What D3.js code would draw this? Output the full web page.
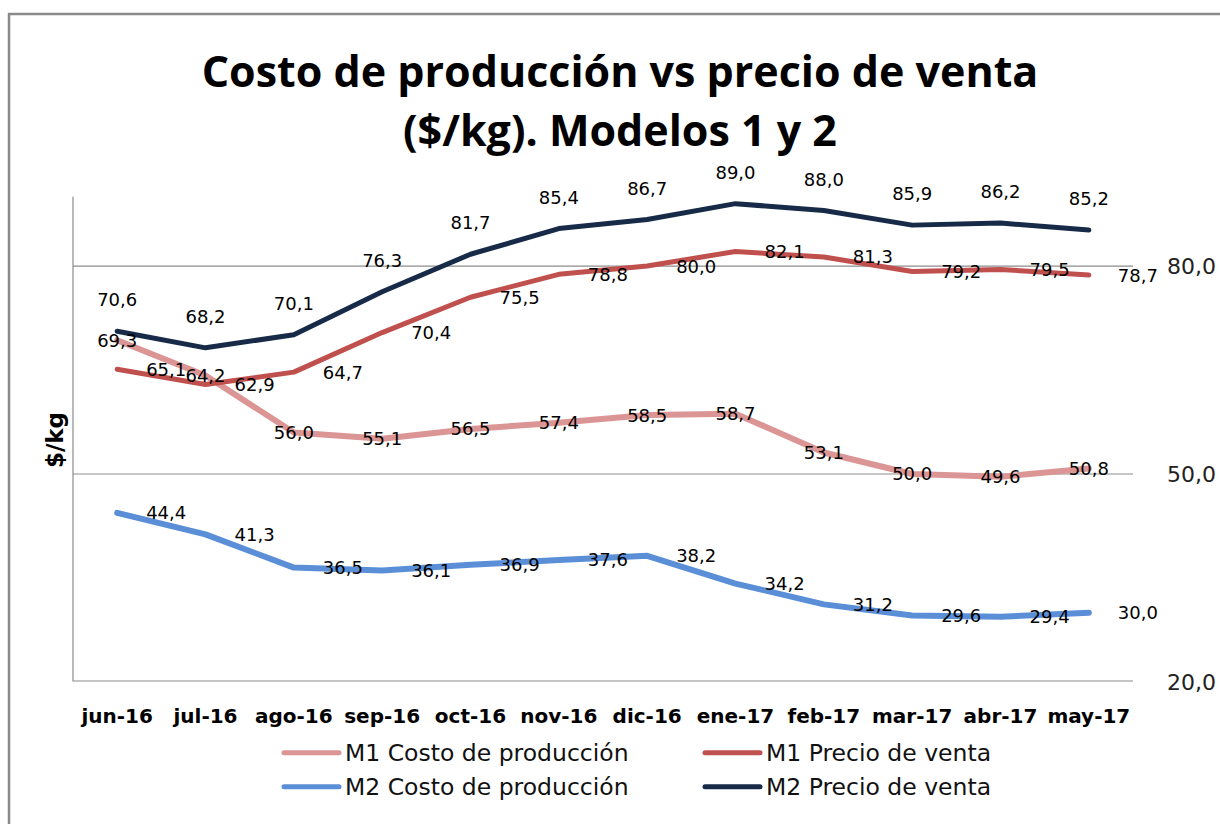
<!DOCTYPE html>
<html lang="es">
<head>
  <meta charset="UTF-8">
  <title>Costo de producción vs precio de venta</title>
  <script src="https://d3js.org/d3.v7.min.js"></script>
  <style>
    body { margin: 0; background: #fff; }
    .lbl { font: 18px "DejaVu Sans", sans-serif; fill: #000; }
    .xtick { font: bold 20px "DejaVu Sans", sans-serif; fill: #000; }
    .ytick { font: 22px "DejaVu Sans", sans-serif; fill: #222; }
    .legend text { font: 23.5px "DejaVu Sans", sans-serif; fill: #111; }
  </style>
</head>
<body>
  <svg id="chart" width="1220" height="824"></svg>
  <script>
    // months on the x axis
    const months = ["jun-16", "jul-16", "ago-16", "sep-16", "oct-16", "nov-16",
                    "dic-16", "ene-17", "feb-17", "mar-17", "abr-17", "may-17"];

    // $/kg per series
    const m1Costo  = [69.3, 64.2, 56.0, 55.1, 56.5, 57.4, 58.5, 58.7, 53.1, 50.0, 49.6, 50.8];
    const m1Precio = [65.1, 62.9, 64.7, 70.4, 75.5, 78.8, 80.0, 82.1, 81.3, 79.2, 79.5, 78.7];
    const m2Costo  = [44.4, 41.3, 36.5, 36.1, 36.9, 37.6, 38.2, 34.2, 31.2, 29.6, 29.4, 30.0];
    const m2Precio = [70.6, 68.2, 70.1, 76.3, 81.7, 85.4, 86.7, 89.0, 88.0, 85.9, 86.2, 85.2];

    const yTicks = [20, 50, 80];

    const series = [
      { name: "M1 Costo de producción", values: m1Costo,  color: "#db9594", width: 6, label: "center" },
      { name: "M1 Precio de venta",     values: m1Precio, color: "#c0504d", width: 5, label: "right" },
      { name: "M2 Costo de producción", values: m2Costo,  color: "#5a8fd8", width: 6, label: "right" },
      { name: "M2 Precio de venta",     values: m2Precio, color: "#172b49", width: 5, label: "top" }
    ];

    const svg = d3.select("#chart");
    const fmt = v => d3.format(".1f")(v).replace(".", ",");

    // outer chart frame
    svg.append("rect")
      .attr("x", 9).attr("y", 14)
      .attr("width", 1230).attr("height", 830)
      .attr("fill", "none")
      .attr("stroke", "#8a8a8a")
      .attr("stroke-width", 2.5);

    // title
    const title = svg.append("text")
      .attr("text-anchor", "middle")
      .style("font", "bold 43px 'Open Sans', sans-serif")
      .attr("fill", "#000");
    title.append("tspan").attr("x", 620).attr("y", 87).text("Costo de producción vs precio de venta");
    title.append("tspan").attr("x", 620).attr("y", 146).text("($/kg). Modelos 1 y 2");

    const plot = { left: 73, right: 1133, top: 196.7, bottom: 682 };

    const x = d3.scaleBand()
      .domain(months)
      .range([plot.left, plot.right]);

    const y = d3.scaleLinear()
      .domain([20, 90])
      .range([plot.bottom, plot.top]);

    const cx = m => x(m) + x.bandwidth() / 2;

    // gridlines
    svg.append("g")
      .selectAll("line")
      .data(yTicks.slice(1))
      .join("line")
      .attr("x1", plot.left).attr("x2", plot.right)
      .attr("y1", d => y(d)).attr("y2", d => y(d))
      .attr("stroke", "#8c8c8c")
      .attr("stroke-width", 1.2);

    // axis lines
    svg.append("path")
      .attr("d", `M${plot.left},${plot.top}V${plot.bottom - 1}H${plot.right}`)
      .attr("fill", "none")
      .attr("stroke", "#8c8c8c")
      .attr("stroke-width", 1.2);

    // y tick labels, sitting at the right side
    svg.append("g")
      .selectAll("text")
      .data(yTicks)
      .join("text")
      .attr("class", "ytick")
      .attr("x", 1167)
      .attr("y", d => y(d))
      .attr("dy", "0.36em")
      .text(d => fmt(d));

    // y axis title
    svg.append("text")
      .attr("transform", "translate(63,440) rotate(-90)")
      .attr("text-anchor", "middle")
      .style("font", "bold 23px 'DejaVu Sans', sans-serif")
      .text("$/kg");

    // x tick labels
    svg.append("g")
      .selectAll("text")
      .data(months)
      .join("text")
      .attr("class", "xtick")
      .attr("x", d => cx(d))
      .attr("y", 723)
      .attr("text-anchor", "middle")
      .text(d => d);

    const line = d3.line()
      .x((d, i) => cx(months[i]))
      .y(d => y(d));

    // series lines
    svg.append("g")
      .selectAll("path")
      .data(series)
      .join("path")
      .attr("d", d => line(d.values))
      .attr("fill", "none")
      .attr("stroke", d => d.color)
      .attr("stroke-width", d => d.width)
      .attr("stroke-linejoin", "round")
      .attr("stroke-linecap", "round");

    // data labels
    series.forEach(s => {
      svg.append("g")
        .selectAll("text")
        .data(s.values)
        .join("text")
        .attr("class", "lbl")
        .attr("x", (d, i) => s.label === "right" ? cx(months[i]) + 29 : cx(months[i]))
        .attr("y", d => s.label === "top" ? y(d) - 25 : y(d))
        .attr("dy", s.label === "top" ? 0 : "0.36em")
        .attr("text-anchor", s.label === "right" ? "start" : "middle")
        .text(d => fmt(d));
    });

    // legend
    const legendPos = [[282, 752.7], [703, 752.7], [282, 786.7], [703, 786.7]];
    const legend = svg.append("g").attr("class", "legend")
      .selectAll("g")
      .data(series)
      .join("g")
      .attr("transform", (d, i) => `translate(${legendPos[i][0]},${legendPos[i][1]})`);

    legend.append("line")
      .attr("x1", 2).attr("x2", 57)
      .attr("stroke", d => d.color)
      .attr("stroke-width", 5)
      .attr("stroke-linecap", "round");

    legend.append("text")
      .attr("x", 63)
      .attr("dy", "0.36em")
      .text(d => d.name);
  </script>
</body>
</html>
